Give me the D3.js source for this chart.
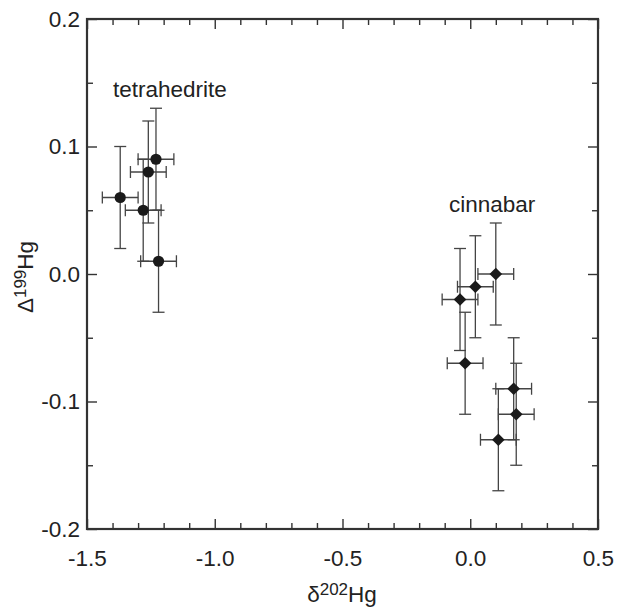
<!DOCTYPE html>
<html>
<head>
<meta charset="utf-8">
<script src="https://cdn.jsdelivr.net/npm/d3@7"></script>
<style>
  body { margin: 0; background: #fff; }
  svg { font-family: "Liberation Sans", Arial, sans-serif; }
</style>
</head>
<body>
<svg id="chart" width="619" height="609"></svg>
<script>
// tetrahedrite samples
var tetraX = [-1.37, -1.28, -1.26, -1.23, -1.22];
var tetraY = [0.06, 0.05, 0.08, 0.09, 0.01];
var tetraXErr = [0.07, 0.07, 0.07, 0.07, 0.07];
var tetraYErr = [0.04, 0.04, 0.04, 0.04, 0.04];

// cinnabar samples
var cinnX = [0.10, 0.02, -0.04, -0.02, 0.17, 0.18, 0.11];
var cinnY = [0.00, -0.01, -0.02, -0.07, -0.09, -0.11, -0.13];
var cinnXErr = [0.07, 0.07, 0.07, 0.07, 0.07, 0.07, 0.07];
var cinnYErr = [0.04, 0.04, 0.04, 0.04, 0.04, 0.04, 0.04];

var xTicks = [-1.5, -1.0, -0.5, 0.0, 0.5];
var yTicks = [-0.2, -0.1, 0.0, 0.1, 0.2];
var xMinor = [-1.4, -1.3, -1.2, -1.1, -0.9, -0.8, -0.7, -0.6, -0.4, -0.3, -0.2, -0.1, 0.1, 0.2, 0.3, 0.4];
var yMinor = [-0.15, -0.05, 0.05, 0.15];

// plot box (note: "top" is a reserved window prop, so use pL/pR/pT/pB)
var pL = 87, pR = 598, pT = 19, pB = 529;
var svg = d3.select("#chart");

var x = d3.scaleLinear().domain([-1.5, 0.5]).range([pL, pR]);
var y = d3.scaleLinear().domain([-0.2, 0.2]).range([pB, pT]);

var fmt = d3.format(".1f");
var lineCol = "#333";
var tickFmt = function(d) { return d < 0 ? "-" + fmt(-d) : fmt(Math.abs(d)); };

function styleAxis(g) {
  g.select(".domain").remove();
  g.selectAll("line").attr("stroke", lineCol).attr("stroke-width", 1.4);
  g.selectAll("text").attr("fill", "#222").attr("font-size", 22.5)
    .attr("font-family", "Liberation Sans, Arial, sans-serif");
}

// bottom axis (major + minor)
svg.append("g").attr("transform", "translate(0," + pB + ")")
  .call(d3.axisBottom(x).tickValues(xTicks).tickSize(-10).tickPadding(21).tickFormat(tickFmt))
  .call(styleAxis);
svg.append("g").attr("transform", "translate(0," + pB + ")")
  .call(d3.axisBottom(x).tickValues(xMinor).tickSize(-6).tickFormat(""))
  .call(styleAxis);
// top axis
svg.append("g").attr("transform", "translate(0," + pT + ")")
  .call(d3.axisTop(x).tickValues(xTicks).tickSize(-10).tickFormat(""))
  .call(styleAxis);
svg.append("g").attr("transform", "translate(0," + pT + ")")
  .call(d3.axisTop(x).tickValues(xMinor).tickSize(-6).tickFormat(""))
  .call(styleAxis);
// left axis
svg.append("g").attr("transform", "translate(" + pL + ",0)")
  .call(d3.axisLeft(y).tickValues(yTicks).tickSize(-10).tickPadding(7).tickFormat(tickFmt))
  .call(styleAxis);
svg.append("g").attr("transform", "translate(" + pL + ",0)")
  .call(d3.axisLeft(y).tickValues(yMinor).tickSize(-6).tickFormat(""))
  .call(styleAxis);
// right axis
svg.append("g").attr("transform", "translate(" + pR + ",0)")
  .call(d3.axisRight(y).tickValues(yTicks).tickSize(-10).tickFormat(""))
  .call(styleAxis);
svg.append("g").attr("transform", "translate(" + pR + ",0)")
  .call(d3.axisRight(y).tickValues(yMinor).tickSize(-6).tickFormat(""))
  .call(styleAxis);

// frame
svg.append("rect")
  .attr("x", pL).attr("y", pT)
  .attr("width", pR - pL).attr("height", pB - pT)
  .attr("fill", "none").attr("stroke", lineCol).attr("stroke-width", 2.2);

// error bars
function errorBars(xs, ys, xe, ye) {
  var cap = 6;
  var g = svg.append("g").attr("stroke", "#444").attr("stroke-width", 1.3).attr("fill", "none");
  xs.forEach(function(xv, i) {
    var cx = x(xv), cy = y(ys[i]);
    var x0 = x(xv - xe[i]), x1 = x(xv + xe[i]);
    var y0 = y(ys[i] - ye[i]), y1 = y(ys[i] + ye[i]);
    g.append("line").attr("x1", x0).attr("x2", x1).attr("y1", cy).attr("y2", cy);
    g.append("line").attr("x1", cx).attr("x2", cx).attr("y1", y0).attr("y2", y1);
    g.append("line").attr("x1", x0).attr("x2", x0).attr("y1", cy - cap).attr("y2", cy + cap);
    g.append("line").attr("x1", x1).attr("x2", x1).attr("y1", cy - cap).attr("y2", cy + cap);
    g.append("line").attr("x1", cx - cap).attr("x2", cx + cap).attr("y1", y0).attr("y2", y0);
    g.append("line").attr("x1", cx - cap).attr("x2", cx + cap).attr("y1", y1).attr("y2", y1);
  });
}
errorBars(tetraX, tetraY, tetraXErr, tetraYErr);
errorBars(cinnX, cinnY, cinnXErr, cinnYErr);

// tetrahedrite: circles
svg.append("g").selectAll("circle")
  .data(d3.range(tetraX.length))
  .enter().append("circle")
  .attr("cx", function(i) { return x(tetraX[i]); })
  .attr("cy", function(i) { return y(tetraY[i]); })
  .attr("r", 5.6)
  .attr("fill", "#1a1a1a");

// cinnabar: diamonds
var diamond = d3.symbol().type(d3.symbolSquare).size(80);
svg.append("g").selectAll("path")
  .data(d3.range(cinnX.length))
  .enter().append("path")
  .attr("d", diamond)
  .attr("transform", function(i) {
    return "translate(" + x(cinnX[i]) + "," + y(cinnY[i]) + ") rotate(45)";
  })
  .attr("fill", "#1a1a1a");

// labels
svg.append("text").attr("x", 113).attr("y", 97)
  .attr("font-size", 22.5).attr("fill", "#222").text("tetrahedrite");
svg.append("text").attr("x", 449).attr("y", 212)
  .attr("font-size", 22.5).attr("fill", "#222").text("cinnabar");

// axis titles
var xt = svg.append("text").attr("x", 342).attr("y", 602)
  .attr("text-anchor", "middle").attr("font-size", 22.5).attr("fill", "#222");
xt.append("tspan").text("\u03b4");
xt.append("tspan").attr("font-size", 17).attr("dy", -7).text("202");
xt.append("tspan").attr("dy", 7).text("Hg");

var yt = svg.append("text")
  .attr("transform", "translate(33,277) rotate(-90)")
  .attr("text-anchor", "middle").attr("font-size", 22.5).attr("fill", "#222");
yt.append("tspan").text("\u0394");
yt.append("tspan").attr("font-size", 17).attr("dy", -7).text("199");
yt.append("tspan").attr("dy", 7).text("Hg");
</script>
</body>
</html>
